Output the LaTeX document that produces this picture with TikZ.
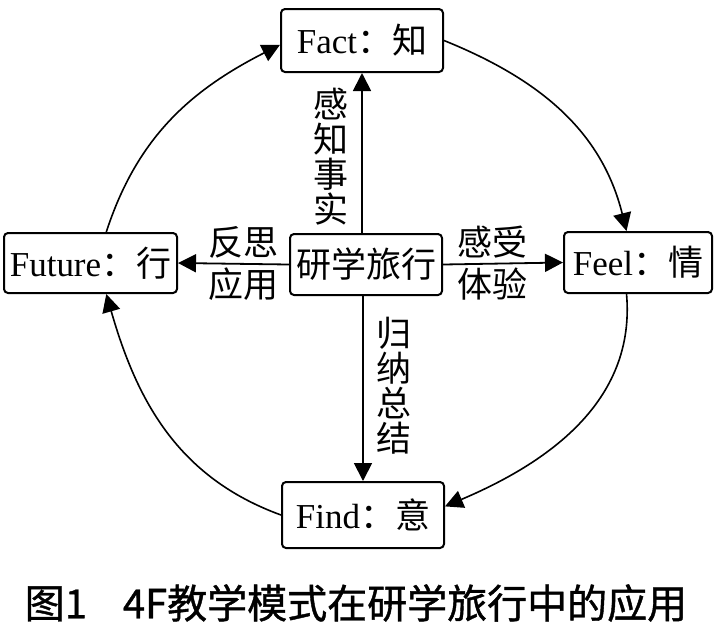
\documentclass[tikz,border=0pt]{standalone}
\usepackage{fontspec}
\setmainfont{Liberation Serif}
\newfontfamily\cjk{Noto Sans CJK SC}
\newfontfamily\capfont[FakeBold=1]{Noto Sans CJK SC}
\usetikzlibrary{arrows.meta}
\newcommand\zh[1]{{\cjk #1}}
\tikzset{
	box/.style={draw, line width=1pt, rounded corners=2pt, inner sep=0pt, font=\fontsize{17.5}{21}\selectfont},
	lbl/.style={inner sep=0pt, align=center, font=\cjk\fontsize{17.5}{17.5}\selectfont},
	link/.style={line width=0.9pt, -{Triangle[length=9pt,width=9pt]}},
	ring/.style={line width=0.8pt, -{Triangle[length=9pt,width=9pt]}}
}

\begin{document}
\begin{tikzpicture}[x=0.5pt, y=-0.5pt]
		%%%%% START %%%%%
		\useasboundingbox (0, 0) rectangle (719, 629);
		
		% boxes
		\node[box, minimum width=81pt, minimum height=31.5pt] (fact) at (362, 40.5) {Fact\zh{：知}};
		\node[box, minimum width=76pt, minimum height=30.5pt] (mid) at (366, 264.5) {\zh{研学旅行}};
		\node[box, minimum width=86.5pt, minimum height=30pt] (future) at (90.5, 263) {Future\zh{：行}};
		\node[box, minimum width=74pt, minimum height=30.5pt] (feel) at (638, 262.5) {Feel\zh{：情}};
		\node[box, minimum width=81pt, minimum height=33pt] (find) at (363, 515) {Find\zh{：意}};
		
		% spokes
		\draw[link] (mid.north -| fact) -- (fact.south);
		\draw[link] (mid.south -| find) -- (find.north);
		\draw[link] (mid.west) -- (future.east);
		\draw[link] (mid.east) -- (feel.west);
		
		\node[lbl] (lfact) at (331, 157) {感\\知\\事\\实};
		\node[lbl] (lfind) at (394, 386) {归\\纳\\总\\结};
		\node[lbl] (lfut1) at (243, 242) {反思};
		\node[lbl] (lfut2) at (243, 284) {应用};
		\node[lbl] (lfeel1) at (492, 242) {感受};
		\node[lbl] (lfeel2) at (492, 284) {体验};
		
		% ring
		\draw[ring] (fact.east) to[out=-22, in=104] (feel.110);
		\draw[ring] (feel.250) to[out=-85, in=23] (find.6);
		\draw[ring] (find.west) to[out=160, in=-74] (future.-63);
		\draw[ring] (future.63) to[out=72, in=207] (fact.183);
		
		% caption
		\node[inner sep=0pt, font=\capfont\fontsize{20}{24}\selectfont] (cap) at (356, 603) {图1\hspace{0.9em}4F教学模式在研学旅行中的应用};
		%%%%% END %%%%%
\end{tikzpicture}
\end{document}
